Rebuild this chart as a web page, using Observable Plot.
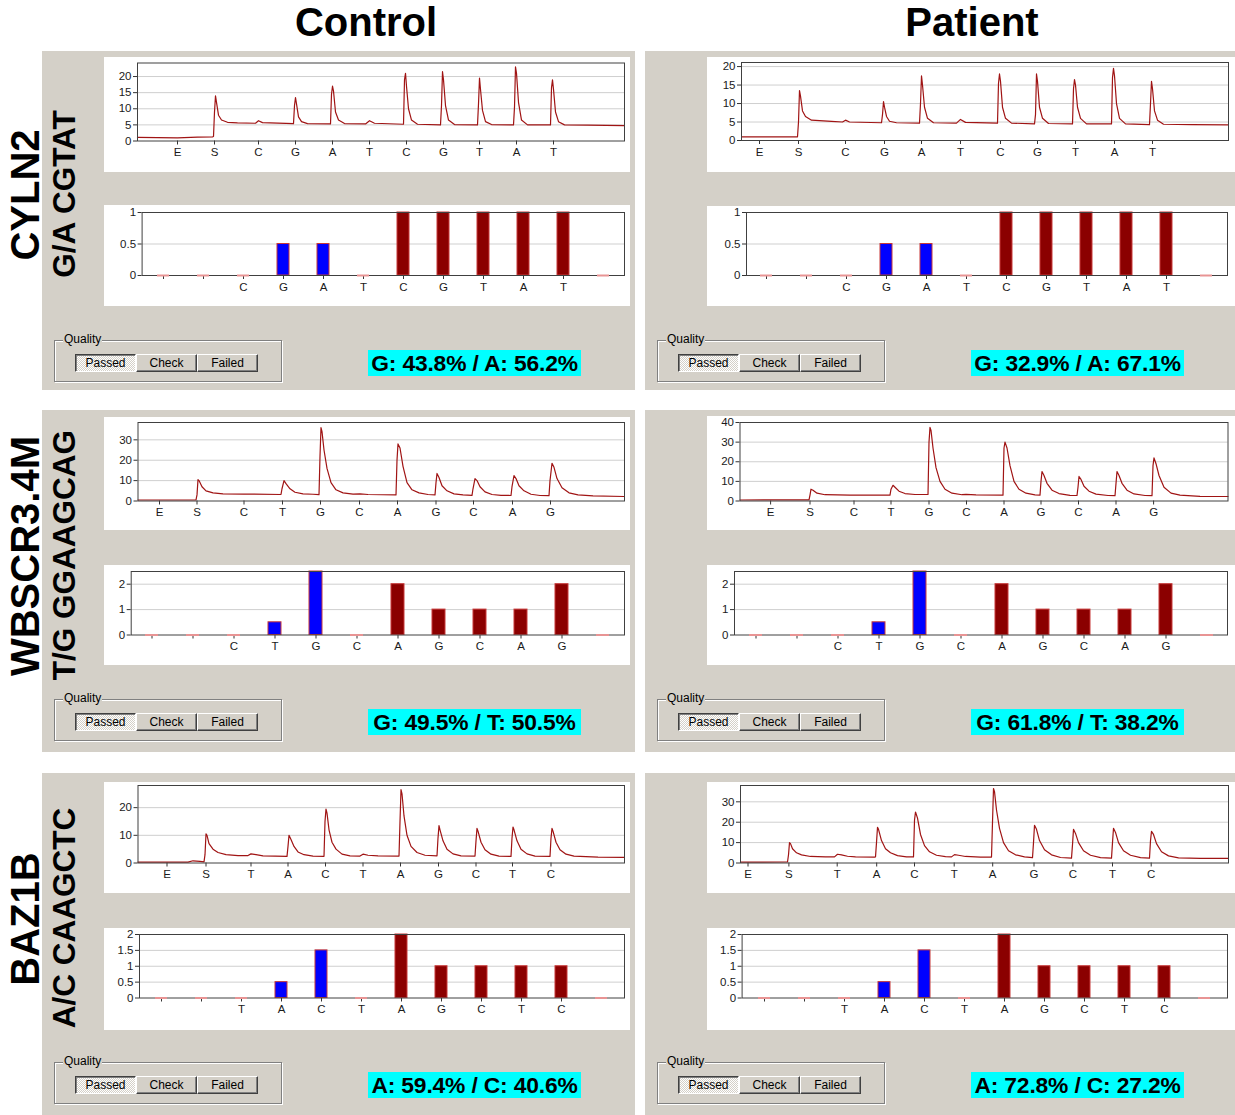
<!DOCTYPE html>
<html><head><meta charset="utf-8">
<script src="https://cdn.jsdelivr.net/npm/d3@7"></script>
<script src="https://cdn.jsdelivr.net/npm/@observablehq/plot@0.6"></script>
<style>
body{margin:0;background:#fff;}
#root{position:relative;width:1235px;height:1115px;overflow:hidden;font-family:"Liberation Sans",Arial,sans-serif;}
.abs{position:absolute;}
.panel{position:absolute;background:#d4d0c8;}
.grp{position:absolute;box-sizing:border-box;border:1px solid #808080;box-shadow:1px 1px 0 #fff, inset 1px 1px 0 #fff;}
.qlabel{position:absolute;background:#d4d0c8;padding:0 1px;font-size:12px;line-height:12px;color:#000;}
.btn{position:absolute;height:18px;box-sizing:border-box;font-size:12px;line-height:16px;text-align:center;color:#000;background:#d4d0c8;
 border-top:1px solid #fff;border-left:1px solid #fff;border-right:1px solid #404040;border-bottom:1px solid #404040;box-shadow:inset -1px -1px 0 #808080;}
.btn.down{border-top:1px solid #404040;border-left:1px solid #404040;border-right:1px solid #fff;border-bottom:1px solid #fff;box-shadow:inset 1px 1px 0 #808080;
 background:repeating-conic-gradient(#ffffff 0 25%, #d4d0c8 0 50%) 0 0/2px 2px;}
.pct{position:absolute;background:#00ffff;font-weight:bold;font-size:22.8px;line-height:26px;height:26px;width:213px;text-align:center;color:#000;white-space:nowrap;letter-spacing:-0.15px;overflow:visible;}
</style></head><body><div id="root"></div>
<script>
// ---------- data ----------
const columns = ["Control", "Patient"];
const genes = ["CYLN2", "WBSCR3.4M", "BAZ1B"];
const variants = ["G/A CGTAT", "T/G GGAAGCAG", "A/C CAAGCTC"];
const percents = [
  ["G: 43.8% / A: 56.2%", "G: 32.9% / A: 67.1%"],
  ["G: 49.5% / T: 50.5%", "G: 61.8% / T: 38.2%"],
  ["A: 59.4% / C: 40.6%", "A: 72.8% / C: 27.2%"]
];
const pyroLetters = [
  ["E","S","C","G","A","T","C","G","T","A","T"],
  ["E","S","C","T","G","C","A","G","C","A","G"],
  ["E","S","T","A","C","T","A","G","C","T","C"]
];
const histLetters = [
  ["","","C","G","A","T","C","G","T","A","T",""],
  ["","","C","T","G","C","A","G","C","A","G",""],
  ["","","T","A","C","T","A","G","C","T","C",""]
];
const histValues = [
  [0,0,0,0.5,0.5,0,1,1,1,1,1,0],
  [0,0,0,0.5,2.5,0,2,1,1,1,2,0],
  [0,0,0,0.5,1.5,0,2,1,1,1,1,0]
];
const histBlue = [3, 4];
const histYMax = [1, 2.5, 2];
const histYTicks = [[0,0.5,1],[0,1,2],[0,0.5,1,1.5,2]];

// pyrogram dispensation times (time units along each trace)
const pyroTicksCtrl1 = [40,77,121,158,195,232,269,306,342,379,416];
const pyroTicksPat1  = [18,57,104,143,180,219,259,296,334,373,411];
const pyroTicksCtrl2 = [21.5,59,106,144.5,182.5,221.5,259.5,298,335.5,374.5,412.5];
const pyroTicksPat2  = [30.6,70,114,151,189,226.5,264,301,338.5,376,413.6];
const pyroTicksCtrl3 = [29,68,113,150,187.5,225,262.5,300.5,338,374.5,413];
const pyroTicksPat3  = [7.5,48.4,96.7,136.2,174,213.7,252.2,293.5,332.4,372,410.7];
const pyroTimeMax = [[487,487],[486.5,488],[486.5,488]];
const pyroYMax = [[24.2,21.1],[38.5,40],[28,38]];
const pyroYTicks = [[[0,5,10,15,20],[0,5,10,15,20]],[[0,10,20,30],[0,10,20,30,40]],[[0,10,20],[0,10,20,30]]];

// pyrogram traces: [time, signal]
const ctrlTrace1 = [[0,1.1],[40,1.0],[60,1.2],[75,1.3],[76,1.4],[77,9],[78,14],[79,12],[81,8],[84,6.5],[90,5.8],[100,5.6],[118,5.5],[121,6.3],[125,5.7],[156,5.4],[157,11],[158,13.5],[159,11.5],[161,7.5],[164,6],[170,5.4],[193,5.3],[194,14.5],[195,17],[196,15.5],[198,9],[201,6.5],[207,5.4],[228,5.3],[232,6.3],[237,5.5],[266,5.2],[267,19],[268,21],[269,17],[271,10],[274,6.5],[280,5.2],[303,5.0],[304,11],[305,21.5],[306,19],[308,11],[311,6.5],[317,5.1],[340,5.0],[341,11.5],[342,19.5],[343,16],[345,9.5],[348,6],[354,5.1],[376,5.0],[377,10.5],[378,23],[379,21],[381,12],[384,6.5],[390,5.0],[413,5.0],[414,16.5],[415,19],[416,16],[418,9],[421,6],[427,5.0],[450,4.9],[487,4.8]];
const patTrace1 = [[0,1.0],[30,1.0],[56,1.0],[57,5],[58,13.5],[59,12],[61,8],[64,6.5],[70,5.5],[90,5.2],[101,5.0],[104,5.5],[108,5.0],[140,4.8],[141,7],[142,10.5],[143,9],[145,6.5],[148,5.2],[155,4.8],[178,4.7],[179,10],[180,17.5],[181,15],[183,9],[186,6],[192,4.8],[215,4.7],[219,5.7],[224,4.9],[256,4.7],[257,15.5],[258,18],[259,16],[261,9],[264,6],[270,4.7],[293,4.5],[294,7],[295,18],[296,16],[298,9],[301,6],[307,4.6],[331,4.5],[332,14],[333,16.5],[334,15],[336,9],[339,6],[345,4.5],[370,4.5],[371,17],[372,19.5],[373,17.5],[375,10],[378,6],[384,4.5],[408,4.3],[409,10],[410,16],[411,14],[413,8],[416,5.5],[422,4.4],[450,4.3],[487,4.2]];
const ctrlTrace2 = [[0,0.5],[58,0.6],[59,3],[60,10.5],[61,10],[64,7],[68,5],[75,4],[85,3.5],[106,3.4],[143,3.2],[144,6],[146,10],[148,8.5],[152,6],[157,4.3],[165,3.5],[175,3.3],[181,3.1],[182,22],[183,36],[184,34],[186,25],[189,16],[193,9],[198,5.5],[205,4],[215,3.4],[222,3.5],[230,3.2],[258,3.0],[259,20],[260,28],[262,26],[265,17],[269,9],[274,5.5],[281,4],[290,3.2],[297,3.0],[298,9],[299,13.5],[301,11.5],[304,7.5],[309,5],[316,3.5],[325,3.0],[334,2.8],[335,6],[337,11],[339,10],[342,7],[347,4.5],[354,3.2],[363,2.8],[373,2.7],[374,7],[376,12.5],[378,11],[381,7.5],[386,5],[393,3.3],[402,2.7],[411,2.6],[412,10],[414,18.5],[416,16.5],[419,11],[424,6.5],[431,4],[440,3],[455,2.5],[486,2.2]];
const patTrace2 = [[0,0.5],[69,0.6],[70,3],[71,6],[73,5.5],[77,4],[85,3.2],[110,3],[150,3],[151,6],[153,8],[155,7],[159,5],[165,3.8],[175,3.3],[186,3.3],[188,3.3],[189,30],[190,37.5],[191,36],[193,27],[196,17],[200,10],[205,6],[212,4],[222,3.2],[226,3.4],[236,3.1],[263,3.0],[264,27],[265,30],[267,27],[270,18],[274,10],[279,6],[286,4],[295,3.1],[300,3.0],[301,10],[302,15],[304,13],[307,9],[312,5.5],[319,3.8],[330,2.9],[337,2.8],[338,7],[339,12.5],[341,11],[344,7.5],[349,5],[356,3.5],[368,2.8],[375,2.7],[376,9],[377,15],[379,13],[382,9],[387,5.5],[394,3.6],[405,2.8],[412,2.7],[413,18],[414,22],[416,19],[419,13],[424,7],[431,4],[440,3],[460,2.4],[488,2.3]];
const ctrlTrace3 = [[0,0.3],[50,0.3],[55,0.8],[62,0.6],[66,0.4],[67,3],[68,10.5],[69,10],[71,7],[75,5],[80,3.8],[88,3],[100,2.7],[110,2.7],[113,3.3],[118,3.0],[125,2.6],[149,2.4],[150,6],[151,10],[153,8.5],[156,6],[160,4],[166,3],[175,2.5],[186,2.4],[187,15],[188,19.5],[189,18],[191,12],[194,7.5],[198,5],[204,3.2],[212,2.6],[222,2.5],[225,3.2],[230,2.8],[240,2.6],[261,2.5],[262,15],[263,26.5],[264,25],[266,17],[269,10],[273,6],[279,3.8],[287,2.8],[299,2.6],[300,9],[301,13.5],[302,12],[305,8],[309,5],[315,3.3],[323,2.6],[337,2.5],[338,8],[339,12.5],[340,11.5],[343,7.5],[347,4.8],[353,3.2],[361,2.5],[373,2.4],[374,9],[375,13],[376,12],[379,8],[383,5],[389,3.3],[397,2.5],[412,2.4],[413,9],[414,12.5],[415,11.5],[418,7.5],[422,4.8],[428,3.2],[436,2.5],[460,2.1],[486,2.0]];
const patTrace3 = [[0,0.4],[47,0.5],[48,4],[49,10],[50,9.5],[52,7],[56,5],[61,4],[70,3.2],[85,3],[94,3],[97,4.3],[101,4],[107,3.3],[115,3.0],[134,2.9],[135,3],[136,10],[137,17.5],[138,16.5],[141,11],[145,7],[150,5],[157,3.6],[166,3.0],[173,3.0],[174,21],[175,25],[177,22],[180,14],[184,8.5],[189,5.5],[196,3.8],[205,3.1],[211,3.0],[214,4.1],[218,3.8],[225,3.2],[240,2.9],[250,2.9],[251,2.9],[252,20],[253,36.5],[254,35],[256,26],[259,17],[263,10],[268,6],[275,4],[284,3],[292,2.6],[293,10],[294,18.5],[296,16.5],[299,11],[304,6.5],[311,4],[320,2.7],[331,2.4],[332,9],[333,16.5],[335,14.5],[338,10],[343,6],[350,3.8],[360,2.6],[371,2.4],[372,10],[373,17],[375,15],[378,10],[383,6],[390,3.8],[400,2.6],[409,2.4],[410,11],[411,15.5],[413,14],[416,9.5],[421,5.5],[428,3.5],[438,2.5],[460,2.3],[488,2.3]];

const traces = [[ctrlTrace1, patTrace1],[ctrlTrace2, patTrace2],[ctrlTrace3, patTrace3]];
const pyroTicks = [[pyroTicksCtrl1, pyroTicksPat1],[pyroTicksCtrl2, pyroTicksPat2],[pyroTicksCtrl3, pyroTicksPat3]];

// ---------- layout ----------
const panelTop = [51, 410, 773], panelH = [339, 342, 342];
const panelX = [[42, 593], [645, 590]];
const pyroBox = [[[104,57,526,115],[707,57,528,115]],[[104,417,526,113],[707,416,528,114]],[[104,782,526,111],[707,782,528,111]]];
const pyroFrame = [[[137,62.5,624,140.5],[741,62,1228,140]],[[137.5,422,624,500.5],[739.5,422,1227.5,500.5]],[[137.5,785,624,862.5],[740,785,1228,862.5]]];
const histBox = [[[104,205,526,101],[707,206,528,100]],[[104,565,526,100],[707,565,528,100]],[[104,928,526,102],[707,928,528,102]]];
const histFrame = [[[141.6,212,624,275],[746,212,1227,275]],[[130.7,571,624,634.5],[734,571,1227,634.5]],[[139,934,624,997.5],[741.6,934,1227,997.5]]];
const qualTop = [340, 699, 1062];
const qualX = [54, 657];
const pctX = [368, 971];
const pctTop = [350, 709, 1072];

const root = document.getElementById("root");
const font = '"Liberation Sans", Arial, sans-serif';

function place(node, x, y) {
  const d = document.createElement("div");
  d.className = "abs";
  d.style.left = x + "px"; d.style.top = y + "px";
  d.appendChild(node);
  root.appendChild(d);
}

function margins(box, fr) {
  return {
    marginLeft: fr[0] - box[0], marginTop: fr[1] - box[1],
    marginRight: box[0] + box[2] - fr[2], marginBottom: box[1] + box[3] - fr[3]
  };
}

const svgStyle = {background: "#fff", fontFamily: font, fontSize: "11.5px", color: "#1a1a1a", overflow: "visible", maxWidth: "none"};
const fmt = d => String(d);

// panels
for (let r = 0; r < 3; r++) for (let c = 0; c < 2; c++) {
  const p = document.createElement("div");
  p.className = "panel";
  p.style.left = panelX[c][0] + "px"; p.style.width = panelX[c][1] + "px";
  p.style.top = panelTop[r] + "px"; p.style.height = panelH[r] + "px";
  root.appendChild(p);
}

for (let r = 0; r < 3; r++) for (let c = 0; c < 2; c++) {
  // pyrogram
  const box = pyroBox[r][c], fr = pyroFrame[r][c];
  const tk = pyroTicks[r][c];
  const letterAt = new Map(tk.map((t, i) => [t, pyroLetters[r][i]]));
  const yt = pyroYTicks[r][c], ym = pyroYMax[r][c];
  const pyro = Plot.plot({
    width: box[2], height: box[3], ...margins(box, fr),
    style: svgStyle,
    x: {domain: [0, pyroTimeMax[r][c]], axis: null},
    y: {domain: [0, ym], axis: null},
    marks: [
      Plot.gridY(yt.filter(t => t > 0 && t < ym), {stroke: "#cfcfcf", strokeOpacity: 1}),
      Plot.axisY(yt, {tickSize: 4, tickPadding: 2, stroke: "#333", label: null, tickFormat: fmt}),
      Plot.axisX(tk, {tickSize: 4, tickPadding: 3, stroke: "#333", label: null, tickFormat: t => letterAt.get(t)}),
      Plot.line(traces[r][c], {x: d => d[0], y: d => d[1], stroke: "#a01414", strokeWidth: 1.2}),
      Plot.frame({stroke: "#404040"})
    ]
  });
  place(pyro, box[0], box[1]);

  // histogram
  const hb = histBox[r][c], hf = histFrame[r][c];
  const bars = histValues[r].map((v, i) => ({i, v, snp: histBlue.includes(i)}));
  const hy = histYMax[r], hyt = histYTicks[r];
  const hist = Plot.plot({
    width: hb[2], height: hb[3], ...margins(hb, hf),
    style: svgStyle,
    color: {type: "identity"},
    x: {type: "band", domain: d3.range(12), paddingInner: 0.69, paddingOuter: 0.345, axis: null},
    y: {domain: [0, hy], axis: null},
    marks: [
      Plot.gridY(hyt.filter(t => t > 0 && t < hy), {stroke: "#cfcfcf", strokeOpacity: 1}),
      Plot.axisY(hyt, {tickSize: 4, tickPadding: 2, stroke: "#333", label: null, tickFormat: fmt}),
      Plot.axisX(d3.range(11), {tickSize: 4, tickPadding: 3, stroke: "#333", label: null, tickFormat: i => histLetters[r][i]}),
      Plot.barY(bars.filter(d => d.v > 0), {x: "i", y: "v", fill: d => d.snp ? "#0000ff" : "#8b0000", stroke: "#c83838", strokeWidth: 1}),
      Plot.frame({stroke: "#404040"}),
      Plot.tickY(bars.filter(d => d.v === 0), {x: "i", y: 0, stroke: "#e89494", strokeWidth: 2})
    ]
  });
  place(hist, hb[0], hb[1]);

  // quality group box
  const qx = qualX[c], qy = qualTop[r];
  const g = document.createElement("div");
  g.className = "grp";
  g.style.left = qx + "px"; g.style.top = qy + "px"; g.style.width = "228px"; g.style.height = "42px";
  root.appendChild(g);
  const ql = document.createElement("div");
  ql.className = "qlabel"; ql.textContent = "Quality";
  ql.style.left = (qx + 9) + "px"; ql.style.top = (qy - 7) + "px";
  root.appendChild(ql);
  ["Passed", "Check", "Failed"].forEach((t, k) => {
    const b = document.createElement("div");
    b.className = "btn" + (k === 0 ? " down" : "");
    b.textContent = t;
    b.style.left = (qx + 21 + 61 * k) + "px"; b.style.top = (qy + 14) + "px"; b.style.width = "61px";
    root.appendChild(b);
  });

  // percentage label
  const pc = document.createElement("div");
  pc.className = "pct"; pc.textContent = percents[r][c];
  pc.style.left = pctX[c] + "px"; pc.style.top = pctTop[r] + "px";
  root.appendChild(pc);
}

// titles and row labels
const NS = "http://www.w3.org/2000/svg";
const ov = document.createElementNS(NS, "svg");
ov.setAttribute("width", 1235); ov.setAttribute("height", 1115);
ov.style.position = "absolute"; ov.style.left = "0"; ov.style.top = "0"; ov.style.pointerEvents = "none";
function txt(s, x, y, size, rot) {
  const t = document.createElementNS(NS, "text");
  t.textContent = s;
  t.setAttribute("transform", `translate(${x},${y})` + (rot ? " rotate(-90)" : ""));
  t.setAttribute("text-anchor", "middle");
  t.setAttribute("font-family", font);
  t.setAttribute("font-weight", "bold");
  t.setAttribute("font-size", size);
  t.setAttribute("fill", "#000");
  ov.appendChild(t);
}
const colCenter = [366, 972];
columns.forEach((s, i) => txt(s, colCenter[i], 36, 40, false));
const rowCenter = [195, 556, 919];
genes.forEach((s, i) => txt(s, 38.5, rowCenter[i], 40, true));
variants.forEach((s, i) => txt(s, 75, rowCenter[i] - 1, 31.5, true));
root.appendChild(ov);
</script></body></html>
